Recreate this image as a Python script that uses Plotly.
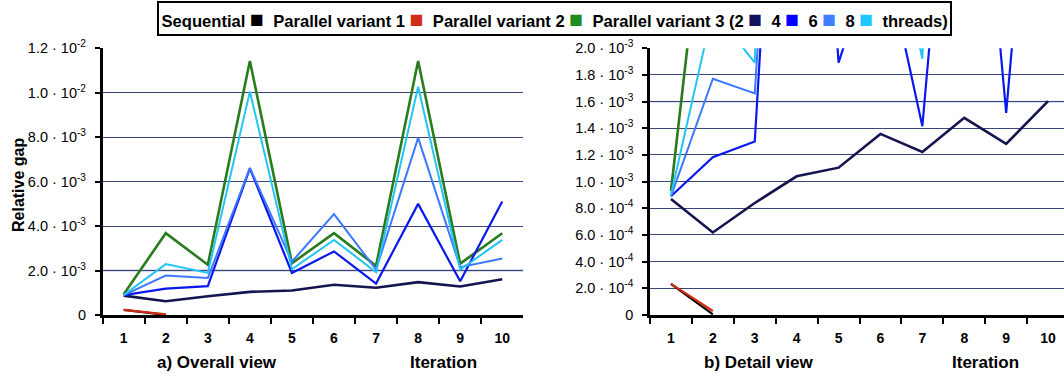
import plotly.graph_objects as go

iterations = ["1", "2", "3", "4", "5", "6", "7", "8", "9", "10"]

sequential = [2.33e-4, 0.05e-4, None, None, None, None, None, None, None, None]
parallel_v1 = [2.33e-4, 0.30e-4, None, None, None, None, None, None, None, None]
parallel_v2 = [0.93e-3, 3.68e-3, 2.26e-3, 11.43e-3, 2.33e-3, 3.68e-3, 2.21e-3, 11.43e-3, 2.31e-3, 3.68e-3]
parallel_v3_2 = [0.870e-3, 0.619e-3, 0.840e-3, 1.040e-3, 1.105e-3, 1.358e-3, 1.223e-3, 1.479e-3, 1.283e-3, 1.604e-3]
parallel_v3_4 = [0.89e-3, 1.183e-3, 1.301e-3, 6.60e-3, 1.892e-3, 2.86e-3, 1.416e-3, 5.00e-3, 1.516e-3, 5.11e-3]
parallel_v3_6 = [0.89e-3, 1.772e-3, 1.662e-3, 6.62e-3, 2.40e-3, 4.54e-3, 2.04e-3, 7.97e-3, 2.15e-3, 2.54e-3]
parallel_v3_8 = [0.90e-3, 2.29e-3, 1.892e-3, 10.05e-3, 2.06e-3, 3.38e-3, 1.922e-3, 10.27e-3, 2.04e-3, 3.38e-3]

series_names = ["Sequential", "Parallel variant 1", "Parallel variant 2",
                "Parallel variant 3 (2 threads)", "Parallel variant 3 (4 threads)",
                "Parallel variant 3 (6 threads)", "Parallel variant 3 (8 threads)"]
series_values = [sequential, parallel_v1, parallel_v2, parallel_v3_2,
                 parallel_v3_4, parallel_v3_6, parallel_v3_8]
line_colors = ["#000000", "#d02a10", "#2a7a1e", "#141450", "#0a18f0", "#3c78ff", "#22c4f5"]
legend_colors = ["#000000", "#d42a1a", "#1e8c1e", "#101060", "#0000ff", "#3f7fff", "#1ec8ff"]
line_widths = [2.2, 2.2, 2.6, 2.6, 2.2, 2.0, 2.0]

legend_labels = ["Sequential", "Parallel variant 1", "Parallel variant 2",
                 "Parallel variant 3 (2", "4", "6", "8", "threads)"]

left_tickvals = [0, 2e-3, 4e-3, 6e-3, 8e-3, 10e-3, 12e-3]
left_ticktext = ["0", "2.0 · 10<sup>-3</sup>", "4.0 · 10<sup>-3</sup>", "6.0 · 10<sup>-3</sup>",
                 "8.0 · 10<sup>-3</sup>", "1.0 · 10<sup>-2</sup>", "1.2 · 10<sup>-2</sup>"]
right_tickvals = [0, 2e-4, 4e-4, 6e-4, 8e-4, 10e-4, 12e-4, 14e-4, 16e-4, 18e-4, 20e-4]
right_ticktext = ["0", "2.0 · 10<sup>-4</sup>", "4.0 · 10<sup>-4</sup>", "6.0 · 10<sup>-4</sup>",
                  "8.0 · 10<sup>-4</sup>", "1.0 · 10<sup>-3</sup>", "1.2 · 10<sup>-3</sup>",
                  "1.4 · 10<sup>-3</sup>", "1.6 · 10<sup>-3</sup>", "1.8 · 10<sup>-3</sup>",
                  "2.0 · 10<sup>-3</sup>"]

FONT = "Liberation Sans, Arial, sans-serif"

fig = go.Figure()
for name, vals, col, w in zip(series_names, series_values, line_colors, line_widths):
    for xa, ya in (("x", "y"), ("x2", "y2")):
        fig.add_trace(go.Scatter(x=iterations, y=vals, mode="lines", name=name,
                                 line=dict(color=col, width=w), xaxis=xa, yaxis=ya,
                                 showlegend=False, connectgaps=False))

xcommon = dict(type="category", tickson="boundaries", ticks="outside", ticklen=6,
               tickwidth=2, tickcolor="black", showline=True, linecolor="black",
               linewidth=2.5, showgrid=False, zeroline=False, automargin=False,
               tickfont=dict(family=FONT, size=14, color="black", weight="bold"),
               ticklabelstandoff=8)
ycommon = dict(ticks="outside", ticklen=5, tickwidth=2, tickcolor="black",
               showline=True, linecolor="black", linewidth=2.5, automargin=False,
               showgrid=True, gridcolor="#3a4775", gridwidth=1, zeroline=False,
               tickfont=dict(family=FONT, size=14.5, color="black"), ticklabelstandoff=6)

fig.update_layout(
    width=1064, height=378,
    margin=dict(l=0, r=0, t=0, b=0),
    paper_bgcolor="white", plot_bgcolor="white",
    showlegend=False,
    xaxis=dict(domain=[0.0965, 0.4918], range=[-0.5, 9.5], anchor="y", **xcommon),
    yaxis=dict(domain=[0.1667, 0.8722], range=[0, 0.012], anchor="x",
               tickvals=left_tickvals, ticktext=left_ticktext, **ycommon),
    xaxis2=dict(domain=[0.6109, 1.0], range=[-0.5, 9.38], anchor="y2", **xcommon),
    yaxis2=dict(domain=[0.1667, 0.8722], range=[0, 0.002], anchor="x2",
                tickvals=right_tickvals, ticktext=right_ticktext, **ycommon),
)

# lighter highlighted gridlines seen in the reference
fig.add_shape(type="line", xref="x domain", yref="y", x0=0, x1=1, y0=left_tickvals[1], y1=left_tickvals[1],
              line=dict(color="#b0b8d4", width=2), layer="below")
fig.add_shape(type="line", xref="x2 domain", yref="y2", x0=0, x1=1, y0=right_tickvals[8], y1=right_tickvals[8],
              line=dict(color="#c8d4f0", width=2), layer="below")

# legend box (markers follow each label, as in the reference)
parts = []
for i, lab in enumerate(legend_labels):
    parts.append(lab)
    if i < len(legend_colors):
        parts.append(" <span style='color:%s;font-size:23px'>■</span>  " % legend_colors[i])
legend_text = "<b>" + "".join(parts) + "</b>"
fig.add_annotation(text=legend_text, xref="paper", yref="paper", x=554 / 1064, y=1 - 18 / 378,
                   xanchor="center", yanchor="middle", showarrow=False,
                   font=dict(family=FONT, size=16.6, color="black"),
                   bordercolor="black", borderwidth=2, borderpad=2.5, bgcolor="white")

titles = ["a) Overall view", "Iteration", "b) Detail view", "Iteration"]
title_x = [217, 443, 758, 985]
for t, tx in zip(titles, title_x):
    fig.add_annotation(text="<b>%s</b>" % t, xref="paper", yref="paper", x=tx / 1064, y=1 - 362 / 378,
                       xanchor="center", yanchor="middle", showarrow=False,
                       font=dict(family=FONT, size=17, color="black"))

fig.add_annotation(text="<b>Relative gap</b>", xref="paper", yref="paper", x=18 / 1064, y=1 - 185 / 378,
                   xanchor="center", yanchor="middle", showarrow=False, textangle=-90,
                   font=dict(family=FONT, size=16, color="black"))

fig.write_html("out.html")
